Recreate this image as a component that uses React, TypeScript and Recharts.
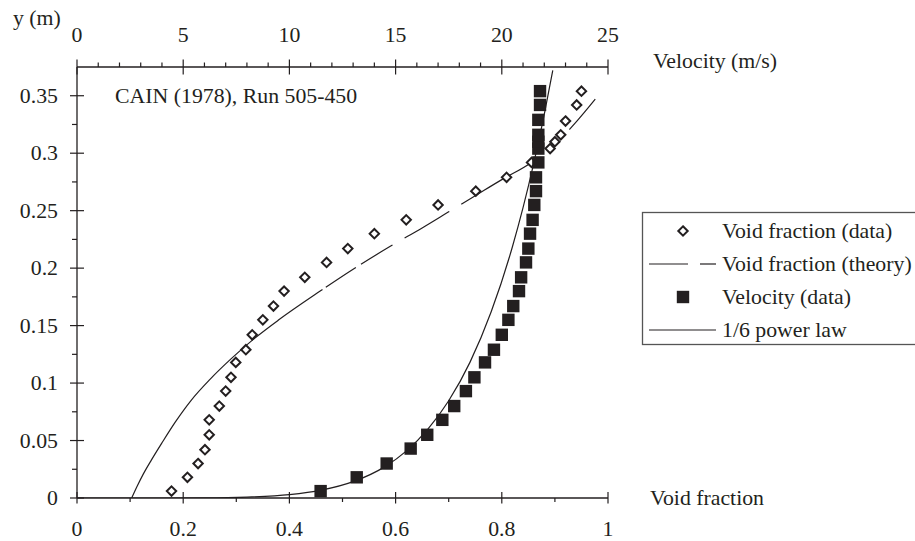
import React from "react";
import { ComposedChart, Line, Scatter, XAxis, YAxis, Legend } from "recharts";

// CAIN (1978), Run 505-450 - void fraction measurements
const voidY = [0.006, 0.018, 0.03, 0.042, 0.055, 0.068, 0.08, 0.093, 0.105, 0.118, 0.129, 0.142, 0.155, 0.167, 0.18, 0.192, 0.205, 0.217, 0.23, 0.242, 0.255, 0.267, 0.279, 0.292, 0.304, 0.31, 0.316, 0.328, 0.342, 0.354];
const voidFrac = [0.178, 0.208, 0.228, 0.241, 0.249, 0.249, 0.268, 0.28, 0.29, 0.299, 0.318, 0.33, 0.35, 0.37, 0.39, 0.429, 0.47, 0.51, 0.56, 0.62, 0.68, 0.751, 0.809, 0.856, 0.891, 0.9, 0.911, 0.92, 0.941, 0.95];

// velocity measurements (m/s)
const velY = [0.006, 0.018, 0.03, 0.043, 0.055, 0.068, 0.08, 0.093, 0.105, 0.118, 0.129, 0.142, 0.155, 0.167, 0.18, 0.192, 0.205, 0.217, 0.23, 0.242, 0.255, 0.267, 0.279, 0.292, 0.304, 0.31, 0.316, 0.329, 0.342, 0.354];
const velocity = [11.47, 13.17, 14.58, 15.71, 16.49, 17.2, 17.76, 18.31, 18.71, 19.21, 19.63, 20.0, 20.31, 20.54, 20.81, 20.91, 21.14, 21.25, 21.33, 21.45, 21.53, 21.61, 21.61, 21.72, 21.72, 21.72, 21.72, 21.72, 21.8, 21.8];

// void fraction theory curve
const theoryFrac = [0.103, 0.113, 0.125, 0.14, 0.16, 0.185, 0.215, 0.25, 0.29, 0.332, 0.38, 0.458, 0.52, 0.59, 0.65, 0.7, 0.75, 0.8, 0.856, 0.89, 0.928, 0.976];
const theoryY = [0, 0.01, 0.021, 0.033, 0.048, 0.066, 0.085, 0.103, 0.121, 0.138, 0.155, 0.18, 0.199, 0.219, 0.235, 0.249, 0.263, 0.277, 0.292, 0.304, 0.321, 0.347];

// 1/6 power law velocity profile
const powerVel = [0, 4, 6, 8, 10, 11.5, 13, 14.5, 15.5, 16.5, 17.5, 18.5, 19.5, 20.5, 21, 21.5, 22, 22.4];
const powerY = [0, 0, 0.0001, 0.0008, 0.0029, 0.0068, 0.0142, 0.0273, 0.0408, 0.0595, 0.0846, 0.118, 0.162, 0.2186, 0.2526, 0.2909, 0.3338, 0.372];

const vfTicks = [0, 0.1, 0.2, 0.3, 0.4, 0.5, 0.6, 0.7, 0.8, 0.9, 1];
const velTicks = [0, 1, 2, 3, 4, 5, 6, 7, 8, 9, 10, 11, 12, 13, 14, 15, 16, 17, 18, 19, 20, 21, 22, 23, 24, 25];
const yTicks = [0, 0.025, 0.05, 0.075, 0.1, 0.125, 0.15, 0.175, 0.2, 0.225, 0.25, 0.275, 0.3, 0.325, 0.35];
const legendLabels = ["Void fraction (data)", "Void fraction (theory)", "Velocity (data)", "1/6 power law"];

const voidData = voidFrac.map((x, i) => ({ x, y: voidY[i] }));
const velData = velocity.map((x, i) => ({ x, y: velY[i] }));
const theoryData = theoryFrac.map((x, i) => ({ x, y: theoryY[i] }));
const powerData = powerVel.map((x, i) => ({ x, y: powerY[i] }));

const INK = "#231f20";
const FONT = "Liberation Serif, Tinos, DejaVu Serif, serif";
const FS = 21.8;
const txt = { fontFamily: FONT, fontSize: FS, fill: INK };

const Diamond = (props: any) => {
    const { cx, cy } = props;
    if (cx == null || cy == null) return <g />;
    const r = 4.7;
    return (
        <path
            d={`M${cx},${cy - r}L${cx + r},${cy}L${cx},${cy + r}L${cx - r},${cy}Z`}
            fill="#fff"
            stroke={INK}
            strokeWidth={2}
        />
    );
};

const Square = (props: any) => {
    const { cx, cy } = props;
    if (cx == null || cy == null) return <g />;
    return <rect x={cx - 6.2} y={cy - 6.2} width={12.4} height={12.4} fill={INK} />;
};

const BottomTick = ({ x, y, payload }: any) => {
    const v = payload.value;
    const major = Math.round(v * 10) % 2 === 0;
    return (
        <g>
            <line x1={x} x2={x} y1={major ? y - 6 : y} y2={major ? y + 5.5 : y + 4} stroke={INK} strokeWidth={1.2} />
            {major && (
                <text x={x} y={y + 38} textAnchor="middle" style={txt}>
                    {v}
                </text>
            )}
        </g>
    );
};

const TopTick = ({ x, y, payload }: any) => {
    const v = payload.value;
    const major = v % 5 === 0;
    return (
        <g>
            <line x1={x} x2={x} y1={major ? y - 7.5 : y - 4.5} y2={major ? y + 7.5 : y} stroke={INK} strokeWidth={1.2} />
            {major && (
                <text x={x} y={y - 25} textAnchor="middle" style={txt}>
                    {v}
                </text>
            )}
        </g>
    );
};

const LeftTick = ({ x, y, payload }: any) => {
    const v = payload.value;
    const major = Math.round(v * 1000) % 50 === 0;
    return (
        <g>
            <line x1={major ? x - 7 : x - 5} x2={major ? x + 7 : x} y1={y} y2={y} stroke={INK} strokeWidth={1.2} />
            {major && (
                <text x={x - 19} y={y + 7} textAnchor="end" style={txt}>
                    {v}
                </text>
            )}
        </g>
    );
};

const LegendBox = () => {
    const tx = 80;
    const rows = [19, 52, 85, 118];
    return (
        <svg width={300} height={136} style={{ display: "block", overflow: "visible" }}>
            <rect x={0.5} y={0.5} width={300} height={132} fill="#fff" stroke="#555" strokeWidth={1.3} />
            <path
                d={`M41,${rows[0] - 4.7}L45.7,${rows[0]}L41,${rows[0] + 4.7}L36.3,${rows[0]}Z`}
                fill="#fff"
                stroke={INK}
                strokeWidth={2}
            />
            <line x1={7} x2={46} y1={rows[1]} y2={rows[1]} stroke={INK} strokeWidth={1.2} />
            <line x1={58} x2={74} y1={rows[1]} y2={rows[1]} stroke={INK} strokeWidth={1.2} />
            <rect x={41 - 6.2} y={rows[2] - 6.2} width={12.4} height={12.4} fill={INK} />
            <line x1={7} x2={74} y1={rows[3]} y2={rows[3]} stroke={INK} strokeWidth={1.2} />
            {legendLabels.map((label, i) => (
                <text key={label} x={tx} y={rows[i] + 7} style={txt}>
                    {label}
                </text>
            ))}
        </svg>
    );
};

export default function App() {
    return (
        <div style={{ position: "absolute", left: 0, top: 0, width: 915, height: 541, overflow: "hidden", background: "#fff" }}>
            <ComposedChart width={915} height={541} margin={{ top: 37, right: 307, bottom: 13, left: 17 }}>
                <XAxis
                    xAxisId="vf"
                    type="number"
                    dataKey="x"
                    orientation="bottom"
                    domain={[0, 1]}
                    ticks={vfTicks}
                    interval={0}
                    height={30}
                    tickSize={0}
                    tickMargin={0}
                    tickLine={false}
                    axisLine={{ stroke: INK, strokeWidth: 1.3 }}
                    tick={(p: any) => <BottomTick {...p} />}
                />
                <XAxis
                    xAxisId="vel"
                    type="number"
                    dataKey="x"
                    orientation="top"
                    domain={[0, 25]}
                    ticks={velTicks}
                    interval={0}
                    height={30}
                    tickSize={0}
                    tickMargin={0}
                    tickLine={false}
                    axisLine={{ stroke: INK, strokeWidth: 1.3 }}
                    tick={(p: any) => <TopTick {...p} />}
                />
                <YAxis
                    type="number"
                    domain={[0, 0.375]}
                    allowDataOverflow
                    ticks={yTicks}
                    interval={0}
                    width={60}
                    tickSize={0}
                    tickMargin={0}
                    tickLine={false}
                    axisLine={{ stroke: INK, strokeWidth: 1.3 }}
                    tick={(p: any) => <LeftTick {...p} />}
                />
                <Legend
                    layout="horizontal"
                    align="center"
                    verticalAlign="middle"
                    wrapperStyle={{ left: 642, top: 212, width: 302, height: 136 }}
                    content={() => <LegendBox />}
                />
                <Line
                    xAxisId="vf"
                    data={theoryData}
                    dataKey="y"
                    type="monotone"
                    stroke={INK}
                    strokeWidth={1.2}
                    strokeDasharray="287 4 36 6 37 14 52 14 84 48 60"
                    dot={false}
                    activeDot={false}
                    isAnimationActive={false}
                />
                <Line
                    xAxisId="vel"
                    data={powerData}
                    dataKey="y"
                    type="monotone"
                    stroke={INK}
                    strokeWidth={1.2}
                    dot={false}
                    activeDot={false}
                    isAnimationActive={false}
                />
                <Scatter xAxisId="vf" data={voidData} dataKey="y" shape={<Diamond />} isAnimationActive={false} />
                <Scatter xAxisId="vel" data={velData} dataKey="y" shape={<Square />} isAnimationActive={false} />
                <text x={13} y={25} style={txt}>y (m)</text>
                <text x={115} y={102.5} style={txt}>CAIN (1978), Run 505-450</text>
                <text x={653} y={67.5} style={txt}>Velocity (m/s)</text>
                <text x={650} y={504.5} style={txt}>Void fraction</text>
            </ComposedChart>
        </div>
    );
}
